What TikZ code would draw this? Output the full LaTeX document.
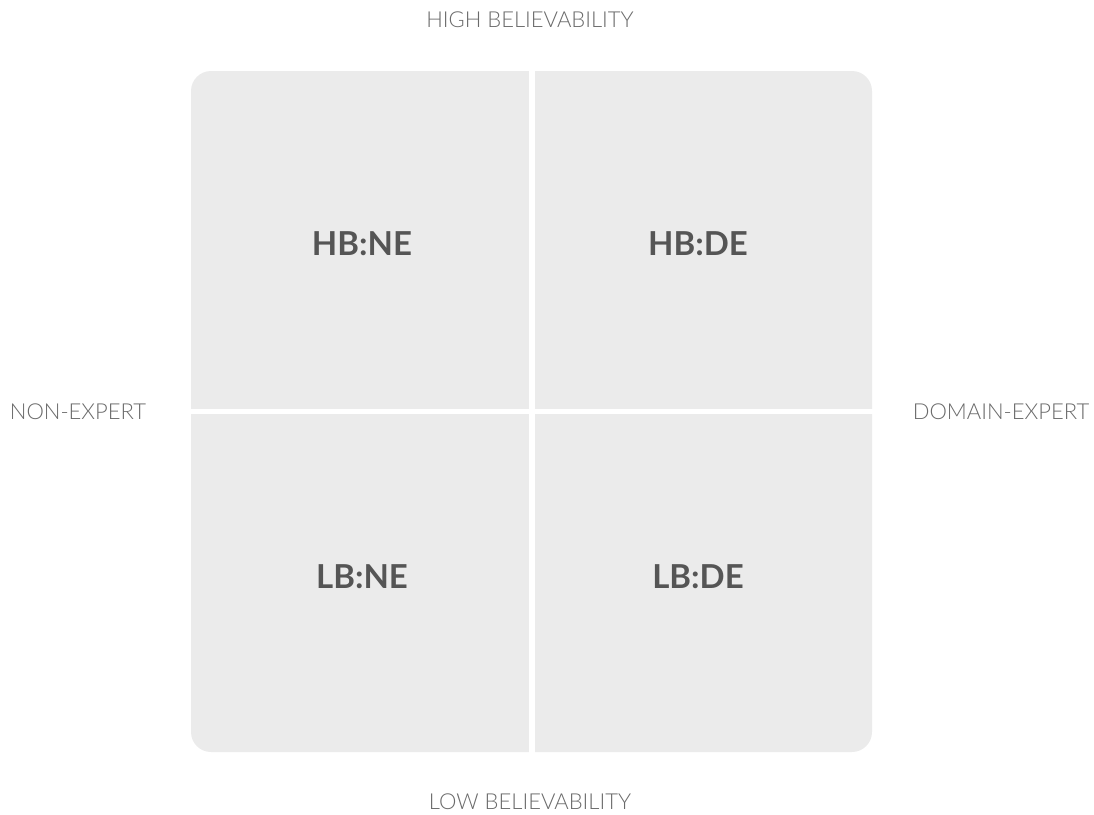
\documentclass[tikz,border=0pt]{standalone}
\usepackage{fontspec}
\setmainfont{Lato}
\newfontfamily\lightfont{Lato Light}
\usepackage{xcolor}
\usetikzlibrary{positioning}
\definecolor{quadgray}{HTML}{EBEBEB}
\definecolor{axisgray}{HTML}{6A6A6A}
\definecolor{quadtext}{HTML}{555555}

\begin{document}
\begin{tikzpicture}[
x=1pt, y=-1pt,
quad/.style={fill=quadgray, draw=none},
axis/.style={text=axisgray, font=\lightfont\fontsize{22}{26}\selectfont},
qlabel/.style={text=quadtext, font=\bfseries\fontsize{33}{38}\selectfont}
]
\useasboundingbox (0,0) rectangle (1094,814);

% Matrix
\fill[quad, rounded corners=20pt] (191,71) rectangle (872,752);
\draw[white, line width=6pt] (532,66) -- (532,757);
\draw[white, line width=5pt] (186,411.5) -- (877,411.5);

% Quadrants
\node[qlabel] (hbne) at (362,244) {HB:NE};
\node[qlabel] (hbde) at (698,244) {HB:DE};
\node[qlabel] (lbne) at (362,577) {LB:NE};
\node[qlabel] (lbde) at (698,577) {LB:DE};

% Axes
\node[axis] (high) at (530,20) {HIGH BELIEVABILITY};
\node[axis] (low) at (530,802) {LOW BELIEVABILITY};
\node[axis] (nonexp) at (78,412) {NON-EXPERT};
\node[axis] (domexp) at (1001,412) {DOMAIN-EXPERT};

\end{tikzpicture}
\end{document}
